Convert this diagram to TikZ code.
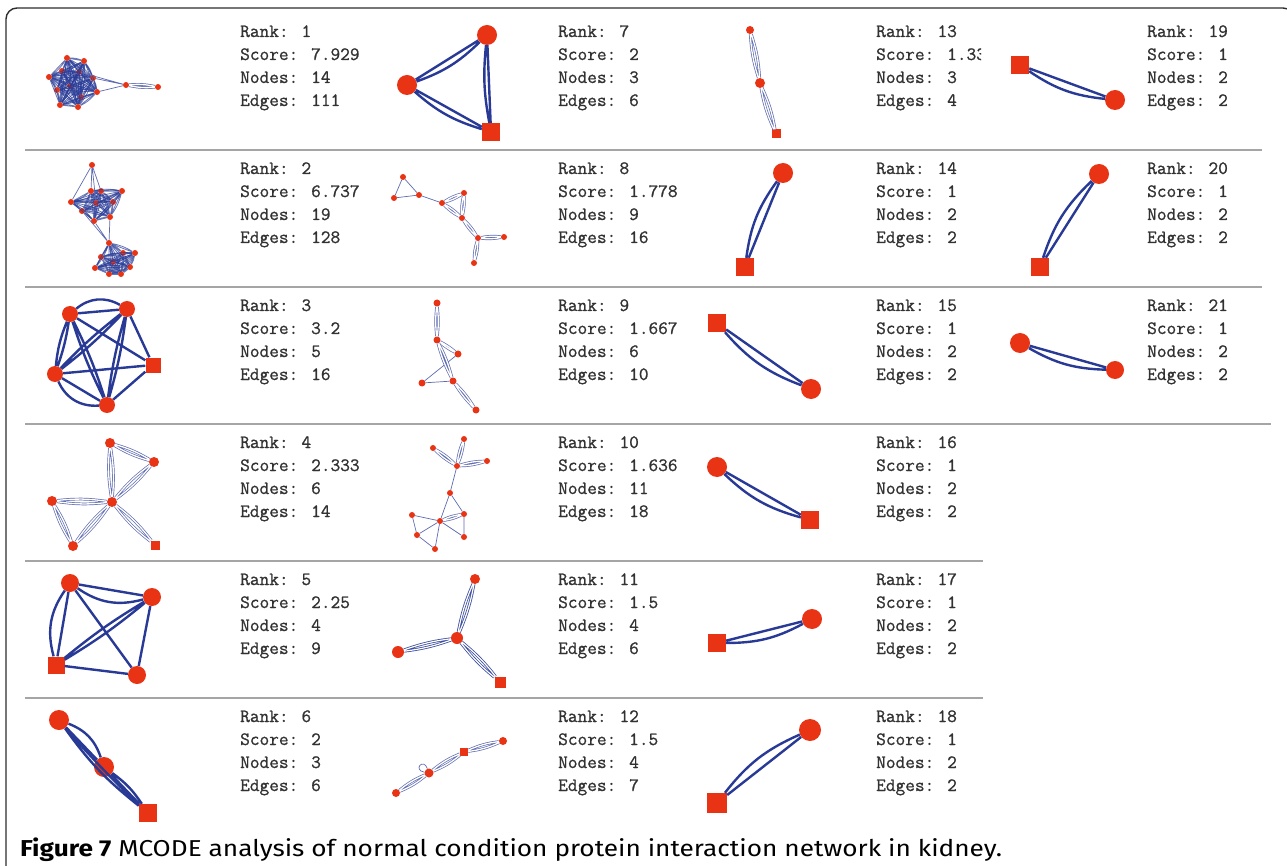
\documentclass[tikz,border=0pt]{standalone}
\usepackage{fontspec}
\newfontfamily\statmono{Latin Modern Mono}[FakeBold=1]
\newfontfamily\capfont{Fira Sans}
\usepackage{tikz}
\usetikzlibrary{positioning}
\definecolor{nodered}{RGB}{232,52,20}
\definecolor{edgeblue}{RGB}{40,58,150}
\definecolor{rulegray}{RGB}{165,165,165}
\definecolor{textgray}{RGB}{50,50,50}
\definecolor{framegray}{RGB}{45,45,45}
\newcommand{\statfont}{\statmono\fontsize{18.8}{22}\selectfont}

\tikzset{
  bignode/.style={circle, fill=nodered, inner sep=0pt, minimum size=20pt},
  midnode/.style={circle, fill=nodered, inner sep=0pt, minimum size=16pt},
  bigsq/.style={rectangle, fill=nodered, inner sep=0pt, minimum size=18pt},
  midsq/.style={rectangle, fill=nodered, inner sep=0pt, minimum size=15pt},
  smallnode/.style={circle, fill=nodered, inner sep=0pt, minimum size=10pt},
  smallsq/.style={rectangle, fill=nodered, inner sep=0pt, minimum size=9pt},
  dotnode/.style={circle, fill=nodered, inner sep=0pt, minimum size=6pt},
  bigedge/.style={draw=edgeblue, line width=2.4pt},
  hollowedge/.style={draw=edgeblue!75, line width=0.7pt, double=white, double distance=1.3pt},
  midedge/.style={draw=edgeblue!90, line width=0.8pt, double=white, double distance=1.2pt},
  thinedge/.style={draw=edgeblue!75, line width=0.7pt},
  meshedge/.style={draw=edgeblue, line width=0.8pt, opacity=0.7},
  stat/.style={font=\statfont, text=textgray, inner sep=0pt, anchor=base west},
  rule/.style={draw=rulegray, line width=1.8pt}
}

\begin{document}
\begin{tikzpicture}[x=1pt, y=-1pt]
  \useasboundingbox (0,0) rectangle (1287,866);
  \clip (0,0) rectangle (1287,866);
  \draw[framegray, line width=1.4pt, rounded corners=11pt] (6,8) rectangle (1294,900);

  % separators
  \draw[rule] (25,150) -- (1262,150);
  \draw[rule] (25,287) -- (1262,287);
  \draw[rule] (25,424) -- (1271,424);
  \draw[rule] (25,561) -- (983,561);
  \draw[rule] (25,698) -- (983,698);

  % cluster statistics
  \foreach \r/\x/\y/\s/\n/\e in {1/240/37/7.929/14/111, 2/240/174/6.737/19/128,
      3/240/311/3.2/5/16, 4/240/448/2.333/6/14, 5/240/585/2.25/4/9, 6/240/722/2/3/6,
      7/558/37/2/3/6, 8/558/174/1.778/9/16, 9/558/311/1.667/6/10, 10/558/448/1.636/11/18,
      11/558/585/1.5/4/6, 12/558/722/1.5/4/7,
      14/876/174/1/2/2, 15/876/311/1/2/2, 16/876/448/1/2/2, 17/876/585/1/2/2, 18/876/722/1/2/2,
      19/1147/37/1/2/2, 20/1147/174/1/2/2, 21/1147/311/1/2/2} {
    \node[stat] (st\r) at (\x,\y) {Rank: \r};
    \node[stat] (st\r-score) at ([yshift=-23pt]st\r.base west) {Score: \s};
    \node[stat] (st\r-nodes) at ([yshift=-46pt]st\r.base west) {Nodes: \n};
    \node[stat] (st\r-edges) at ([yshift=-69pt]st\r.base west) {Edges: \e};
  }
  \begin{scope}
    \clip (860,0) rectangle (981,150);
    \node[stat] (st13) at (876,37) {Rank: 13};
    \node[stat] (st13-score) at ([yshift=-23pt]st13.base west) {Score: 1.333};
    \node[stat] (st13-nodes) at ([yshift=-46pt]st13.base west) {Nodes: 3};
    \node[stat] (st13-edges) at ([yshift=-69pt]st13.base west) {Edges: 4};
  \end{scope}

  % rank 1
  \foreach \n/\x/\y in {1/67/58, 2/84/61, 3/49/77, 4/62/71, 5/79/72, 6/93/78,
      7/70/86, 8/57/90, 9/97/92, 10/81/97, 11/60/105, 12/78/107}
    \node[dotnode] (r1n\n) at (\x,\y) {};
  \node[dotnode] (r1t1) at (126,85) {};
  \node[dotnode] (r1t2) at (158,87) {};
  \foreach \i in {1,...,11} {
    \pgfmathtruncatemacro\k{\i+1}
    \foreach \j in {\k,...,12}
      \draw[meshedge] (r1n\i) to[bend left=10] (r1n\j) (r1n\i) -- (r1n\j);
  }
  \draw[thinedge] (r1n6) -- (r1t1) (r1n9) -- (r1t1) (r1n5) -- (r1t1);
  \draw[hollowedge] (r1t1) to[bend left=8] (r1t2) (r1t1) to[bend right=8] (r1t2);

  % rank 2
  \node[dotnode] (r2u0) at (92,165) {};
  \foreach \n/\x/\y in {1/91/191, 2/101/191, 3/122/191, 4/71/202, 5/96/203,
      6/113/202, 7/82/211, 8/94/221, 9/110/217}
    \node[dotnode] (r2u\n) at (\x,\y) {};
  \foreach \n/\x/\y in {0/109/243, 1/101/257, 2/123/253, 3/135/253, 4/113/262,
      5/95/268, 6/130/267, 7/109/274, 8/121/274}
    \node[dotnode] (r2l\n) at (\x,\y) {};
  \foreach \i in {1,...,8} {
    \pgfmathtruncatemacro\k{\i+1}
    \foreach \j in {\k,...,9}
      \draw[meshedge] (r2u\i) to[bend left=10] (r2u\j) (r2u\i) -- (r2u\j);
  }
  \foreach \i in {0,...,7} {
    \pgfmathtruncatemacro\k{\i+1}
    \foreach \j in {\k,...,8}
      \draw[meshedge] (r2l\i) to[bend left=10] (r2l\j) (r2l\i) -- (r2l\j);
  }
  \draw[thinedge] (r2u0) -- (r2u1) (r2u0) -- (r2u2) (r2u0) -- (r2u4) (r2u0) -- (r2u5);
  \draw[thinedge] (r2u8) -- (r2l0) (r2u9) -- (r2l0) (r2u7) -- (r2l0);

  % rank 3
  \node[midnode] (r3a) at (70,314) {};
  \node[midnode] (r3b) at (127,309) {};
  \node[midnode] (r3c) at (55,374) {};
  \node[midnode] (r3d) at (107,405) {};
  \node[midsq] (r3e) at (153,365) {};
  \draw[bigedge] (r3a) -- (r3b) (r3a) to[bend left=35] (r3b);
  \draw[bigedge] (r3a) to[bend left=5] (r3c) (r3a) to[bend right=8] (r3c);
  \draw[bigedge] (r3a) to[bend left=4] (r3d) (r3a) to[bend right=4] (r3d);
  \draw[bigedge] (r3b) to[bend left=4] (r3c) (r3b) to[bend right=4] (r3c);
  \draw[bigedge] (r3b) to[bend left=4] (r3d) (r3b) to[bend right=4] (r3d);
  \draw[bigedge] (r3c) -- (r3d) (r3c) to[bend right=35] (r3d);
  \draw[bigedge] (r3a) -- (r3e) (r3b) -- (r3e) (r3c) -- (r3e) (r3d) -- (r3e);

  % rank 4
  \node[smallnode] (r4a) at (110,443) {};
  \node[smallnode] (r4b) at (154,462) {};
  \node[smallnode] (r4c) at (52,501) {};
  \node[smallnode] (r4d) at (112,502) {};
  \node[smallnode] (r4e) at (73,546) {};
  \node[smallsq] (r4f) at (155,545) {};
  \foreach \p/\q in {r4a/r4b, r4a/r4d, r4b/r4d, r4c/r4d, r4c/r4e, r4e/r4d, r4d/r4f}
    \draw[hollowedge] (\p) to[bend left=7] (\q) (\p) to[bend right=7] (\q);

  % rank 5
  \node[midnode, minimum size=18pt] (r5a) at (70,583) {};
  \node[midnode, minimum size=18pt] (r5b) at (152,597) {};
  \node[bigsq, minimum size=17pt] (r5c) at (56,665) {};
  \node[midnode, minimum size=18pt] (r5d) at (137,675) {};
  \draw[bigedge] (r5a) -- (r5b) (r5a) to[bend right=25] (r5b);
  \draw[bigedge] (r5a) -- (r5c) (r5a) to[bend right=25] (r5c);
  \draw[bigedge] (r5b) to[bend left=4] (r5c) (r5b) to[bend right=4] (r5c);
  \draw[bigedge] (r5a) -- (r5d) (r5b) -- (r5d) (r5c) -- (r5d);

  % rank 6
  \node[bignode] (r6a) at (59,720) {};
  \node[bignode] (r6b) at (104,767) {};
  \node[bigsq] (r6c) at (148,813) {};
  \draw[bigedge] (r6a) -- (r6b) (r6a) to[bend left=25] (r6b);
  \draw[bigedge] (r6b) -- (r6c) (r6b) to[bend left=10] (r6c);
  \draw[bigedge] (r6a) to[bend right=8] (r6c) (r6a) to[bend right=3] (r6c);

  % rank 7
  \node[bignode] (r7a) at (487,35) {};
  \node[bignode] (r7b) at (407,85) {};
  \node[bigsq] (r7c) at (491,132) {};
  \draw[bigedge] (r7a) -- (r7b) (r7a) to[bend left=12] (r7b);
  \draw[bigedge] (r7b) -- (r7c) (r7b) to[bend right=12] (r7c);
  \draw[bigedge] (r7a) -- (r7c) (r7a) to[bend right=8] (r7c);

  % rank 8
  \foreach \n/\x/\y in {a/403/177, b/394/198, c/419/195, d/442/203, e/464/193,
      f/462/218, g/478/238, h/504/237, i/474/263}
    \node[dotnode] (r8\n) at (\x,\y) {};
  \draw[thinedge] (r8a) -- (r8b) (r8a) -- (r8c) (r8b) -- (r8c) (r8c) -- (r8d);
  \foreach \p/\q in {r8d/r8e, r8d/r8f, r8e/r8f, r8f/r8g, r8g/r8h, r8g/r8i}
    \draw[hollowedge] (\p) to[bend left=8] (\q) (\p) to[bend right=8] (\q);

  % rank 9
  \foreach \n/\x/\y in {a/437/303, b/437/340, c/458/354, d/422/383, e/453/381, f/476/410}
    \node[dotnode, minimum size=7pt] (r9\n) at (\x,\y) {};
  \draw[thinedge] (r9c) -- (r9d) (r9d) -- (r9e);
  \foreach \p/\q in {r9a/r9b, r9b/r9c, r9b/r9e, r9e/r9f}
    \draw[hollowedge] (\p) to[bend left=6] (\q) (\p) to[bend right=6] (\q);

  % rank 10
  \foreach \n/\x/\y in {a/433/448, b/464/439, c/487/461, d/457/466, e/450/493, f/412/515,
      g/440/521, h/464/514, i/417/535, j/435/549, k/464/537}
    \node[dotnode] (r10\n) at (\x,\y) {};
  \foreach \p/\q in {r10a/r10d, r10b/r10d, r10c/r10d, r10g/r10h}
    \draw[hollowedge] (\p) to[bend left=8] (\q) (\p) to[bend right=8] (\q);
  \draw[thinedge] (r10d) -- (r10e) (r10e) -- (r10g) (r10e) -- (r10h) (r10f) -- (r10g)
    (r10f) -- (r10i) (r10i) -- (r10g) (r10i) -- (r10j) (r10j) -- (r10g) (r10g) -- (r10k)
    (r10h) -- (r10k);

  % rank 11
  \node[smallnode] (r11a) at (475,579) {};
  \node[smallnode, minimum size=12pt] (r11b) at (457,638) {};
  \node[smallnode, minimum size=12pt] (r11c) at (398,652) {};
  \node[smallsq, minimum size=11pt] (r11d) at (500,682) {};
  \foreach \p/\q in {r11b/r11a, r11b/r11c, r11b/r11d}
    \draw[midedge] (\p) to[bend left=6] (\q) (\p) to[bend right=6] (\q);

  % rank 12
  \node[dotnode, minimum size=8pt] (r12a) at (396,793) {};
  \node[dotnode, minimum size=9pt] (r12b) at (429,773) {};
  \node[smallsq, minimum size=8pt] (r12c) at (464,752) {};
  \node[dotnode, minimum size=8pt] (r12d) at (503,741) {};
  \foreach \p/\q in {r12a/r12b, r12b/r12c, r12c/r12d}
    \draw[hollowedge] (\p) to[bend left=8] (\q) (\p) to[bend right=8] (\q);
  \draw[thinedge] (r12b) to[out=110, in=170, min distance=12pt] (r12b);

  % rank 13
  \node[dotnode, minimum size=8pt] (r13a) at (750,30) {};
  \node[smallnode] (r13b) at (760,83) {};
  \node[smallsq] (r13c) at (776,134) {};
  \foreach \p/\q in {r13a/r13b, r13b/r13c}
    \draw[hollowedge] (\p) to[bend left=7] (\q) (\p) to[bend right=7] (\q);

  % two node clusters
  \node[bignode] (r14a) at (783,173) {};
  \node[bigsq] (r14b) at (745,267) {};
  \node[bigsq] (r15a) at (717,323) {};
  \node[bignode] (r15b) at (811,389) {};
  \node[bignode] (r16a) at (717,467) {};
  \node[bigsq] (r16b) at (810,520) {};
  \node[bigsq] (r17a) at (717,643) {};
  \node[bignode] (r17b) at (812,619) {};
  \node[bignode, minimum size=22pt] (r18a) at (810,730) {};
  \node[bigsq, minimum size=20pt] (r18b) at (717,803) {};
  \node[bigsq] (r19a) at (1020,65) {};
  \node[bignode] (r19b) at (1115,100) {};
  \node[bignode] (r20a) at (1099,174) {};
  \node[bigsq] (r20b) at (1040,267) {};
  \node[bignode] (r21a) at (1020,343) {};
  \node[bignode, minimum size=18pt] (r21b) at (1115,370) {};
  \foreach \r in {14,...,21}
    \draw[bigedge] (r\r a) -- (r\r b) (r\r a) to[bend right=14] (r\r b);

  % caption
  \node[anchor=base west, inner sep=0pt, font=\capfont\fontsize{23}{26}\selectfont] (caption)
    at (20,856) {\scalebox{1.14}[1]{\textbf{Figure 7} MCODE analysis of normal condition protein interaction network in kidney.}};
\end{tikzpicture}
\end{document}
